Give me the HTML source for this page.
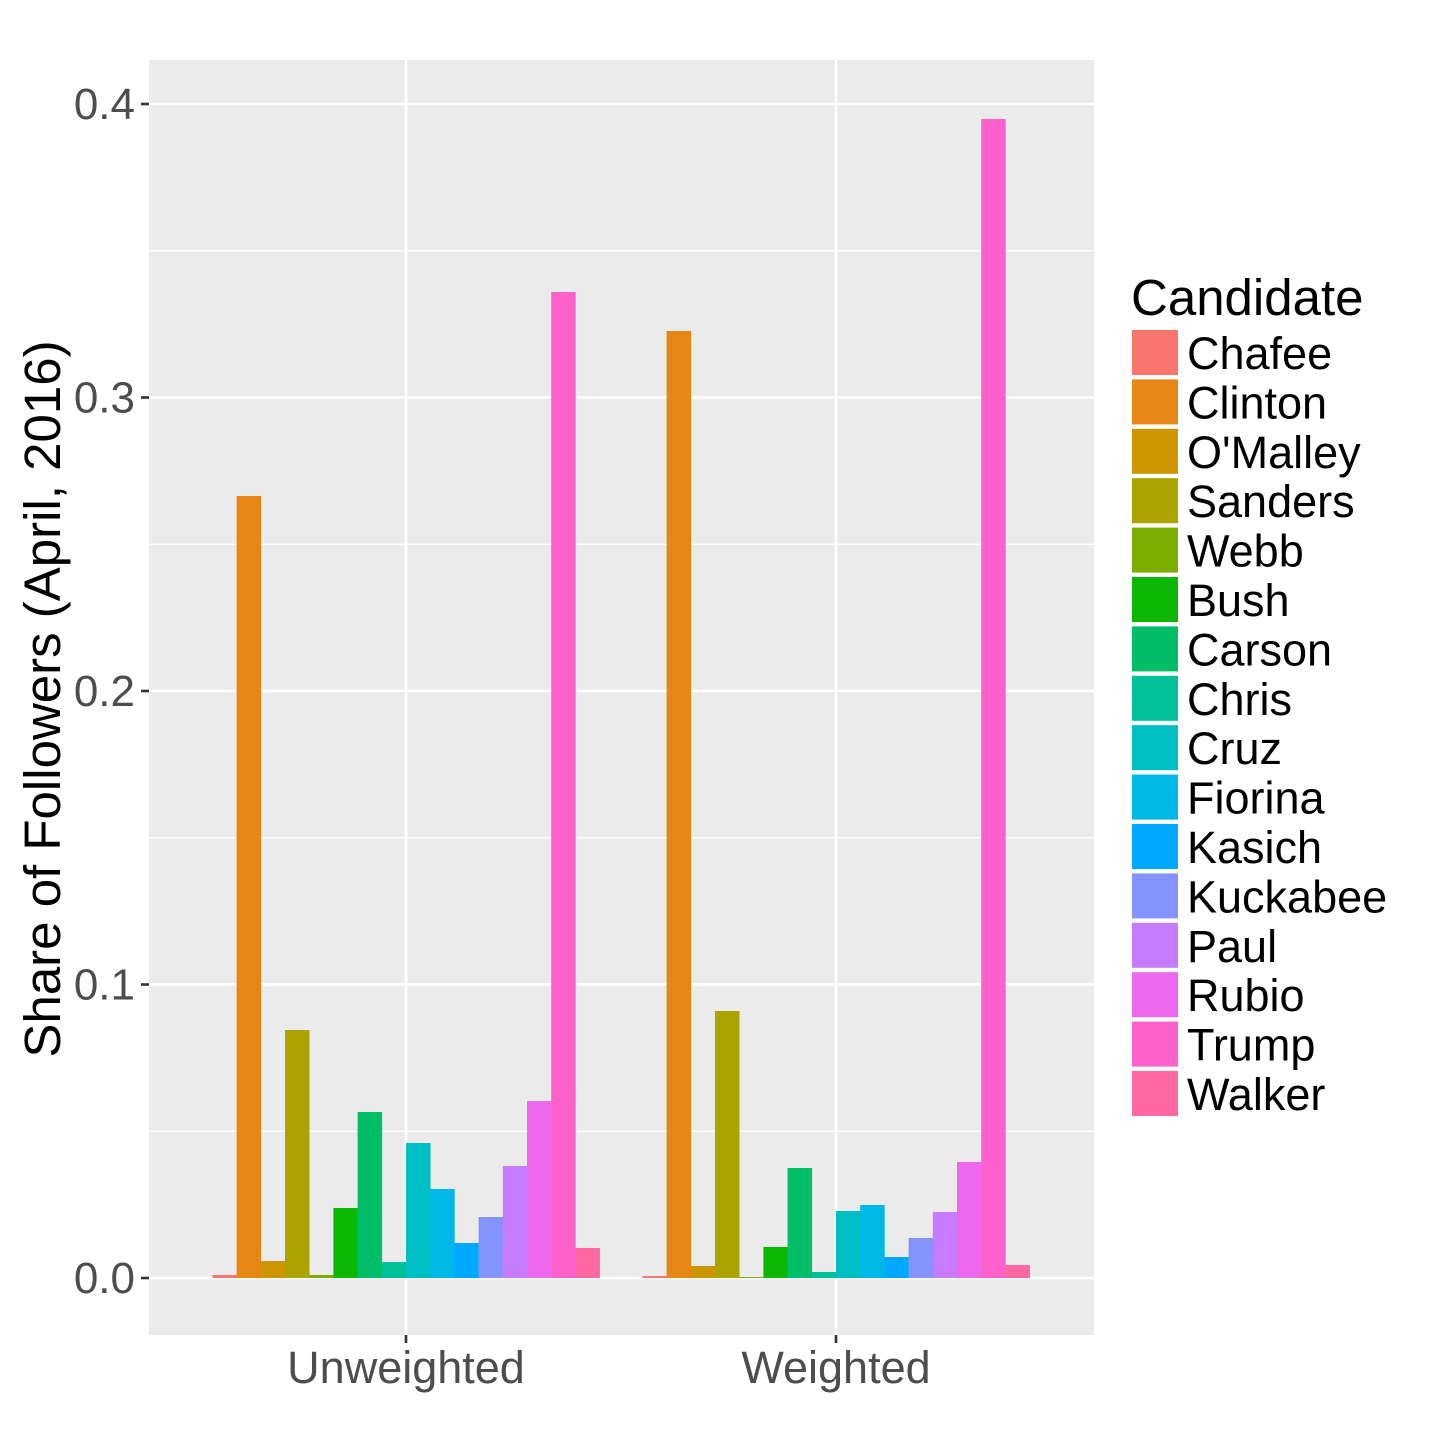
<!DOCTYPE html>
<html><head><style>body{margin:0;background:#fff}svg{display:block}</style></head><body>
<svg width="1440" height="1440" xmlns="http://www.w3.org/2000/svg" font-family="Liberation Sans, Arial, sans-serif">
<rect x="0" y="0" width="1440" height="1440" fill="#fff"/>
<rect x="149" y="60" width="945" height="1275" fill="#ebebeb"/>
<g stroke="#fff" stroke-width="1.3">
<line x1="149" x2="1094" y1="250.75" y2="250.75"/><line x1="149" x2="1094" y1="544.25" y2="544.25"/><line x1="149" x2="1094" y1="837.75" y2="837.75"/><line x1="149" x2="1094" y1="1131.25" y2="1131.25"/>
</g>
<g stroke="#fff" stroke-width="2.6">
<line x1="149" x2="1094" y1="104" y2="104"/><line x1="149" x2="1094" y1="397.5" y2="397.5"/><line x1="149" x2="1094" y1="691" y2="691"/><line x1="149" x2="1094" y1="984.5" y2="984.5"/><line x1="149" x2="1094" y1="1278" y2="1278"/>
<line x1="406" x2="406" y1="60" y2="1335"/><line x1="836" x2="836" y1="60" y2="1335"/>
</g>
<g id="bars"></g>
<g stroke="#333" stroke-width="2.6">
<line x1="141" x2="149" y1="104" y2="104"/><line x1="141" x2="149" y1="397.5" y2="397.5"/><line x1="141" x2="149" y1="691" y2="691"/><line x1="141" x2="149" y1="984.5" y2="984.5"/><line x1="141" x2="149" y1="1278" y2="1278"/>
<line x1="406" x2="406" y1="1335" y2="1343"/><line x1="836" x2="836" y1="1335" y2="1343"/>
</g>
<g fill="#4d4d4d" font-size="44" text-anchor="end">
<text x="135" y="119">0.4</text><text x="135" y="412.5">0.3</text><text x="135" y="706">0.2</text><text x="135" y="999.5">0.1</text><text x="135" y="1293">0.0</text>
</g>
<g fill="#4d4d4d" font-size="45" text-anchor="middle">
<text x="406" y="1383">Unweighted</text><text x="836" y="1383">Weighted</text>
</g>
<text transform="translate(60,699) rotate(-90)" font-size="51" text-anchor="middle" fill="#000">Share of Followers (April, 2016)</text>
<text x="1131" y="315" font-size="51" fill="#000">Candidate</text>
<g id="legend" font-size="45" fill="#000"></g>
<script>
var cols=["#F8766D","#E68613","#CD9600","#ABA300","#7CAE00","#0CB702","#00BE67","#00C19A","#00BFC4","#00B8E7","#00A9FF","#8494FF","#C77CFF","#ED68ED","#FF61CC","#FF68A1"];
var names=["Chafee","Clinton","O'Malley","Sanders","Webb","Bush","Carson","Chris","Cruz","Fiorina","Kasich","Kuckabee","Paul","Rubio","Trump","Walker"];
var u=[1275,496,1261,1030,1275,1208,1112,1262,1143,1189,1243,1217,1166,1101,292,1248];
var w=[1276,331,1266,1011,1277,1247,1168,1272,1211,1205,1257,1238,1212,1162,119,1265];
var ns="http://www.w3.org/2000/svg",b=document.getElementById("bars"),L=document.getElementById("legend");
var bw=24.2;
function bar(x0,arr){for(var i=0;i<16;i++){var r=document.createElementNS(ns,"rect");r.setAttribute("x",x0+i*bw);r.setAttribute("width",bw+0.3);var t=arr[i];r.setAttribute("y",t);r.setAttribute("height",Math.max(1278-t,1));r.setAttribute("fill",cols[i]);b.appendChild(r);}}
bar(212.4,u);bar(642.4,w);
for(var i=0;i<16;i++){var y=330+i*49.4;var r=document.createElementNS(ns,"rect");r.setAttribute("x",1132);r.setAttribute("y",y);r.setAttribute("width",46);r.setAttribute("height",45);r.setAttribute("fill",cols[i]);L.appendChild(r);var t=document.createElementNS(ns,"text");t.setAttribute("x",1187);t.setAttribute("y",y+39);t.textContent=names[i];L.appendChild(t);}
</script>
</svg>
</body></html>
